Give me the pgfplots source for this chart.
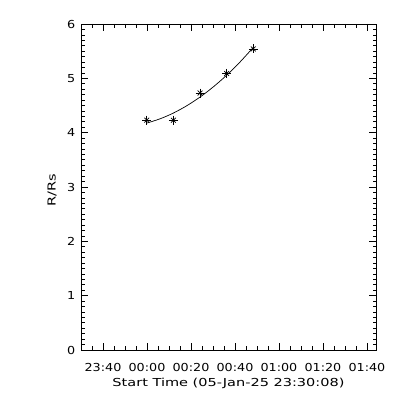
\documentclass[border=0pt]{standalone}
\usepackage{pgfplots}
\pgfplotsset{compat=1.18}
\usepackage{fontspec}
\setmainfont{DejaVu Sans}[FakeStretch=1.32]
\newfontfamily\tickfont{DejaVu Sans}[FakeStretch=1.16]
\begin{document}
\fontsize{11bp}{13bp}\selectfont
\begin{tikzpicture}
\useasboundingbox (0,0) rectangle (400bp,400bp);
\begin{axis}[
  at={(81bp,50bp)}, anchor=south west,
  scale only axis, width=295bp, height=326bp,
  xmin=0, xmax=134.1, ymin=0, ymax=6,
  axis line style={line width=0.8bp},
  xtick={10,30,50,70,90,110,130},
  xticklabels={23:40,00:00,00:20,00:40,01:00,01:20,01:40},
  minor xtick={5,15,20,25,35,40,45,55,60,65,75,80,85,95,100,105,115,120,125},
  ytick={0,1,2,3,4,5,6},
  minor y tick num=9,
  tick align=inside,
  major tick length=7bp, minor tick length=3.5bp,
  tick style={line width=0.7bp, black},
  /pgf/number format/assume math mode=true,
  tick label style={font=\tickfont\fontsize{11bp}{13bp}\selectfont},
  xticklabel style={anchor=center, yshift=-17bp, text depth=0pt},
  yticklabel style={anchor=east, xshift=-2bp},
  label style={font=\fontsize{11bp}{13bp}\selectfont},
  xlabel={Start Time (05-Jan-25 23:30:08)},
  ylabel={R/Rs},
  xlabel style={at={(axis description cs:0.5,-0.101)}, anchor=center},
  ylabel style={at={(axis description cs:-0.098,0.49)}, anchor=center},
]
\addplot[black, line width=0.7bp, smooth, no markers] coordinates {
(29.9,4.176) (35.95,4.255) (42.0,4.361) (48.05,4.495) (54.1,4.655)
(60.15,4.843) (66.2,5.057) (72.25,5.299) (78.3,5.568)};
\addplot[black, line width=0.7bp, only marks, mark=+, mark size=4.5bp] coordinates {
(29.9,4.23) (42.0,4.23) (54.1,4.73) (66.2,5.09) (78.3,5.54)};
\addplot[black, line width=0.7bp, only marks, mark=x, mark size=3.4bp] coordinates {
(29.9,4.23) (42.0,4.23) (54.1,4.73) (66.2,5.09) (78.3,5.54)};
\end{axis}
\end{tikzpicture}
\end{document}
